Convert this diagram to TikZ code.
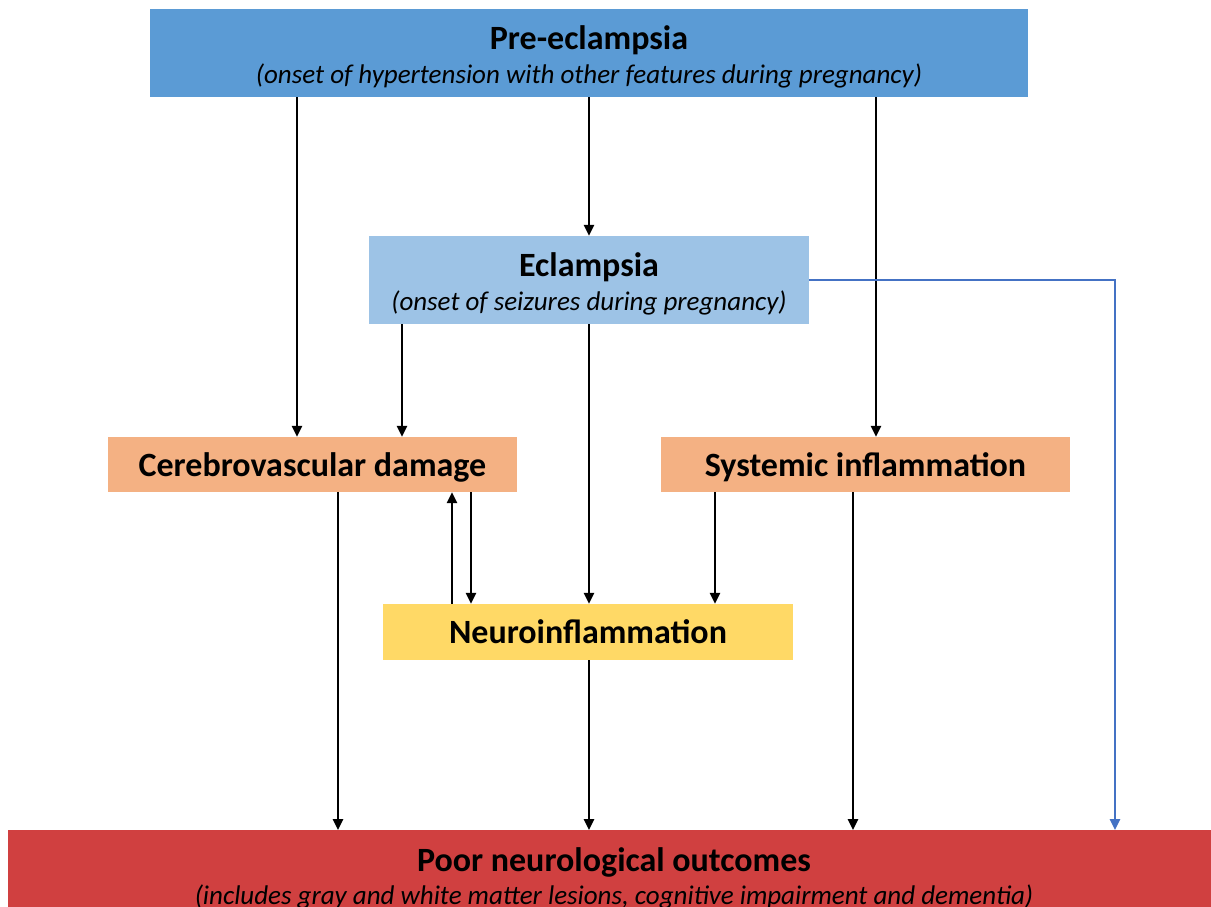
\documentclass[tikz,border=0pt]{standalone}
\usepackage{fontspec}
\setmainfont{Carlito}
\usetikzlibrary{arrows.meta}

\definecolor{preblue}{HTML}{5B9BD5}
\definecolor{eclblue}{HTML}{9DC3E6}
\definecolor{peach}{HTML}{F4B183}
\definecolor{neuyellow}{HTML}{FFD966}
\definecolor{outred}{RGB}{208,64,64}
\definecolor{linkblue}{HTML}{4472C4}

\newcommand{\subline}[1]{{\fontsize{27}{37}\selectfont\mdseries\itshape #1\rule[-7pt]{0pt}{7pt}}}

\tikzset{
  box/.style={inner sep=0pt, align=center, font=\fontsize{34}{37}\selectfont\bfseries},
  onebox/.style={box, text height=26pt, text depth=3pt},
  link/.style={->, line width=2.5pt},
}

\begin{document}
\begin{tikzpicture}[x=1pt,y=-1pt, >={Triangle[length=11pt,width=10pt]}]
			\useasboundingbox (0,0) rectangle (1211,906);
			
			\node[box, fill=preblue, minimum width=878pt, minimum height=88pt] (pre) at (589,53)
			{\rule{0pt}{33pt}Pre-eclampsia\\[-3pt]\subline{(onset of hypertension with other features during pregnancy)}};
			\node[box, fill=eclblue, minimum width=440pt, minimum height=88pt] (ecl) at (589,280)
			{\rule{0pt}{33pt}Eclampsia\\[-3pt]\subline{(onset of seizures during pregnancy)}};
			\node[onebox, fill=peach, minimum width=409pt, minimum height=55pt] (cer) at (312.5,464.5) {Cerebrovascular damage};
			\node[onebox, fill=peach, minimum width=409pt, minimum height=55pt] (sys) at (865.5,464.5) {Systemic inflammation};
			\node[onebox, fill=neuyellow, minimum width=410pt, minimum height=56pt] (neu) at (588,632) {Neuroinflammation};
			\node[box, fill=outred, anchor=north, minimum width=1212pt, minimum height=90pt, text depth=0pt] (poor) at (614,830)
			{\rule{0pt}{26pt}Poor neurological outcomes\\[-4pt]\subline{(includes gray and white matter lesions, cognitive impairment and dementia)}};
			
			%\draw (pre) -- (ecl);
			\draw[link] (pre) -- (ecl);
			\foreach \x/\a/\b in {297/pre/cer, 876/pre/sys, 402/ecl/cer, 589/ecl/neu, 471/cer/neu, 715/sys/neu, 338/cer/poor, 589/neu/poor, 853/sys/poor}
			\draw[link] (\x,0 |- \a.south) -- (\x,0 |- \b.north);
			\draw[link] (452,0 |- neu.north) -- (452,0 |- cer.south);
			
			\draw[link, linkblue] (ecl.east) -| (1115,0 |- poor.north);
\end{tikzpicture}
\end{document}
